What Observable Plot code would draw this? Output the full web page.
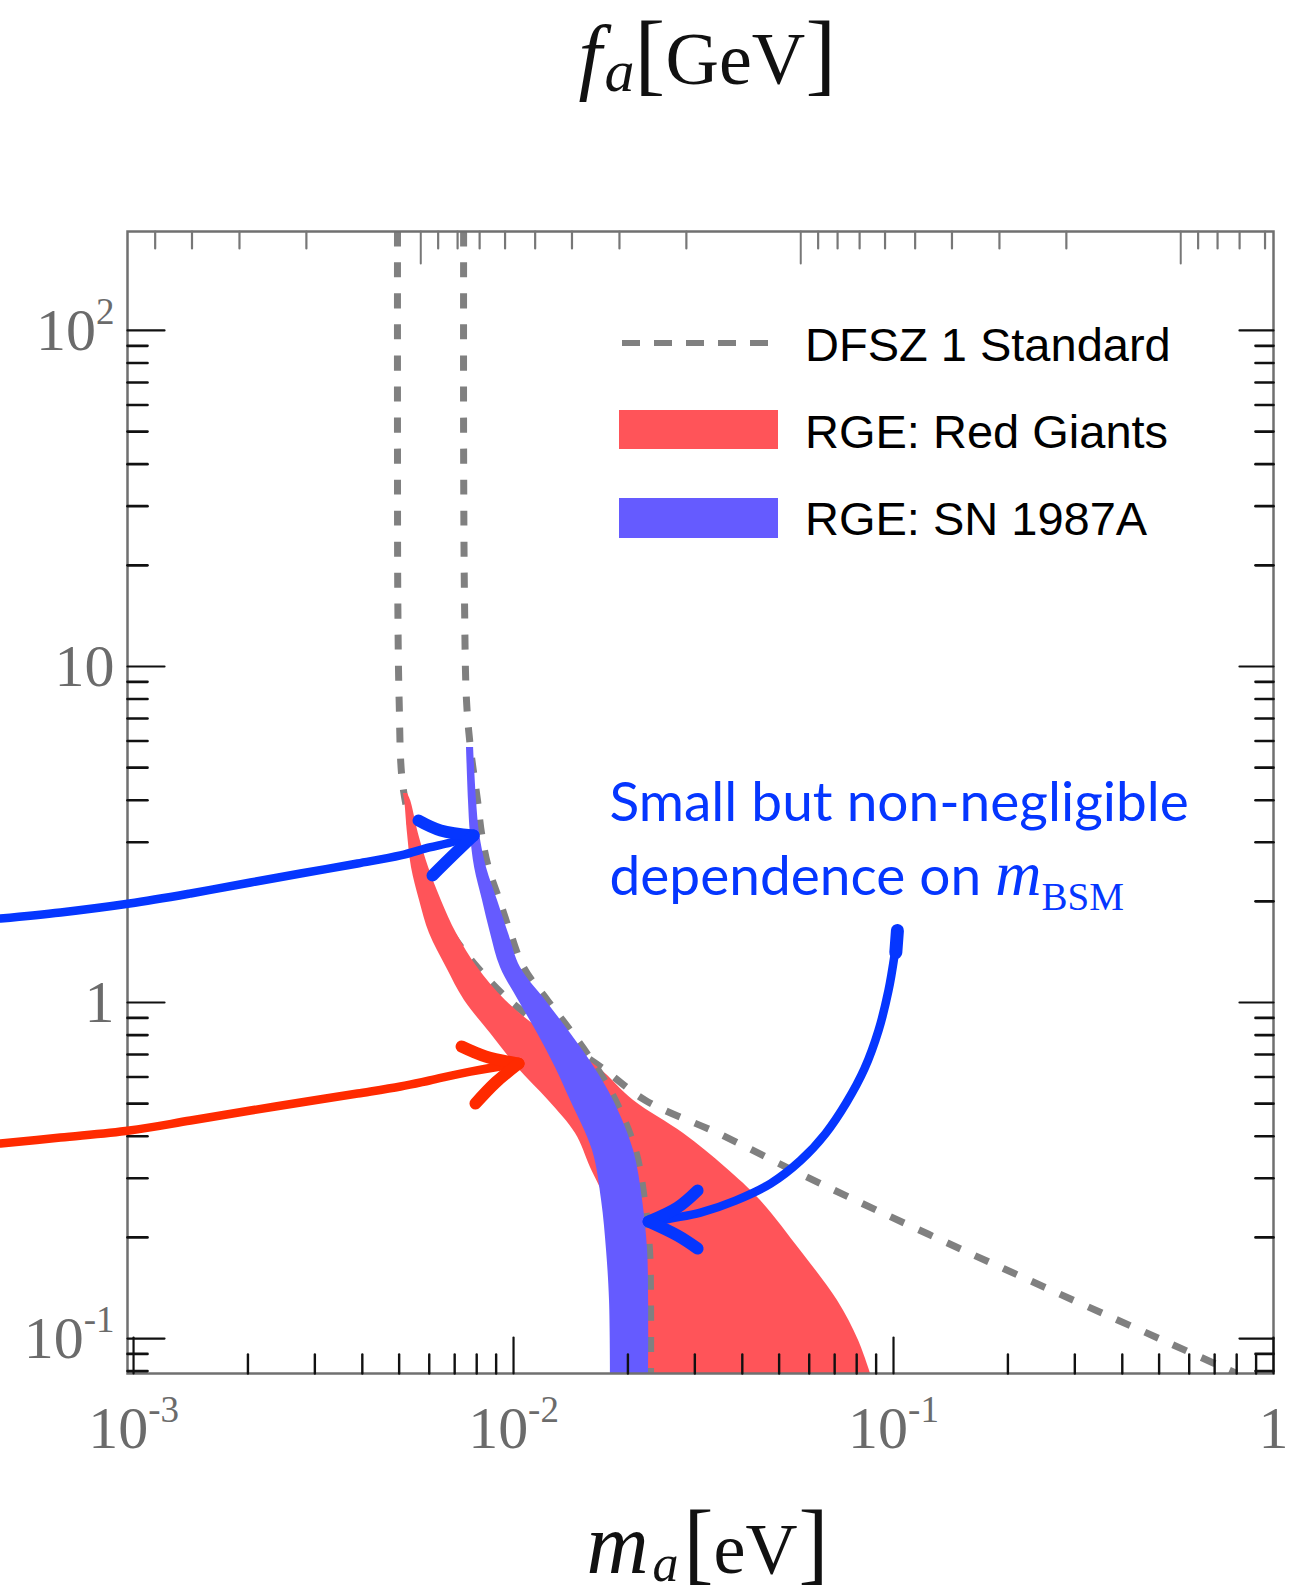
<!DOCTYPE html>
<html><head><meta charset="utf-8">
<script src="https://cdn.jsdelivr.net/npm/d3@7"></script>
<script src="https://cdn.jsdelivr.net/npm/@observablehq/plot@0.6"></script>
<style>
html,body{margin:0;padding:0;background:#fff;}
#chart svg{display:block;}
</style></head><body><div id="chart"></div>
<script>
// ---------- data ----------
// Red Giants band (RGE): for each Y, left and right m_a edge [eV]
const rgY     = [4.19, 3.99, 3.18, 2.52, 2.01, 1.605, 1.271, 1.014, 0.809, 0.640, 0.511, 0.4075, 0.3228, 0.2574, 0.1827, 0.1297, 0.0986, 0.0787];
const rgLeft  = [0.00513, 0.00517, 0.00526, 0.00539, 0.00566, 0.00601, 0.00666, 0.00743, 0.00870, 0.01025, 0.01236, 0.01456, 0.01594, 0.01738, 0.01778, 0.01833, 0.01867, 0.0189];
const rgRight = [0.00526, 0.00536, 0.00562, 0.00598, 0.00646, 0.00708, 0.00804, 0.00953, 0.01214, 0.01674, 0.0207, 0.02802, 0.03614, 0.04467, 0.0569, 0.0712, 0.0809, 0.0870];
// SN 1987A band (RGE)
const snY     = [5.74, 3.99, 3.18, 2.52, 2.01, 1.605, 1.271, 1.014, 0.809, 0.640, 0.511, 0.3626, 0.2574, 0.1827, 0.1297, 0.0787];
const snLeft  = [0.00752, 0.00761, 0.00770, 0.00790, 0.00829, 0.00870, 0.00924, 0.01031, 0.01157, 0.0129, 0.01413, 0.01614, 0.01705, 0.01757, 0.01789, 0.0180];
const snRight = [0.00785, 0.00799, 0.00814, 0.00849, 0.00908, 0.00970, 0.01043, 0.01214, 0.01413, 0.01634, 0.01833, 0.0207, 0.02186, 0.02253, 0.02267, 0.02267];
// DFSZ 1 standard bounds (dashed)
const rgDashY = [197, 43.9, 15.7, 7.92, 4.52, 3.18, 2.52, 2.01, 1.605, 1.271, 1.014, 0.809, 0.640, 0.511, 0.4075, 0.3228, 0.2574, 0.1827, 0.1297, 0.0986, 0.0787];
const rgDashM = [0.00495, 0.00495, 0.00496, 0.0050, 0.0051, 0.00542, 0.00573, 0.00616, 0.00687, 0.00804, 0.00976, 0.01259, 0.01705, 0.02226, 0.03463, 0.0525, 0.0797, 0.1533, 0.299, 0.514, 0.80];
const snDashY = [197, 43.9, 15.7, 7.92, 5.74, 3.99, 3.18, 2.52, 2.01, 1.605, 1.271, 1.014, 0.809, 0.640, 0.511, 0.3626, 0.2574, 0.1827, 0.1297, 0.0787];
const snDashM = [0.00739, 0.00739, 0.00743, 0.00752, 0.00770, 0.00804, 0.00824, 0.00859, 0.00919, 0.00982, 0.01063, 0.01229, 0.0143, 0.01654, 0.01855, 0.02095, 0.02212, 0.0228, 0.02294, 0.02294];

// hand-drawn annotation arrows (data coordinates)
const blueArrowM = [0.0004467, 0.0006425, 0.000976, 0.001413, 0.002032, 0.002751, 0.003886, 0.005042, 0.00601, 0.00683, 0.00785];
const blueArrowY = [1.778, 1.853, 1.970, 2.111, 2.276, 2.420, 2.593, 2.739, 2.893, 2.994, 3.162];
const blueHeadUpM = [0.005623, 0.00643, 0.00785], blueHeadUpY = [3.48, 3.25, 3.14];
const blueHeadLoM = [0.00785, 0.00683, 0.00612], blueHeadLoY = [3.14, 2.70, 2.388];
const redArrowM = [0.0004467, 0.0006425, 0.000976, 0.001413, 0.002032, 0.002751, 0.003886, 0.005042, 0.00601, 0.0077, 0.01031];
const redArrowY = [0.3805, 0.3964, 0.416, 0.4455, 0.477, 0.504, 0.536, 0.5623, 0.586, 0.623, 0.658];
const redHeadUpM = [0.0073, 0.00844, 0.01031], redHeadUpY = [0.7397, 0.691, 0.658];
const redHeadLoM = [0.01031, 0.00897, 0.00794], redHeadLoY = [0.658, 0.578, 0.5005];
const curveArrowM = [0.1022, 0.1006, 0.09701, 0.09131, 0.0839, 0.0752, 0.06623, 0.05692, 0.04747, 0.03839, 0.03105, 0.02589, 0.02294];
const curveArrowY = [1.582, 1.38, 1.086, 0.8254, 0.636, 0.504, 0.4075, 0.3387, 0.2892, 0.2574, 0.2371, 0.2276, 0.2214];
const curveHeadUpM = [0.0305, 0.02702, 0.02267], curveHeadUpY = [0.2757, 0.2454, 0.2229];
const curveHeadLoM = [0.02267, 0.02702, 0.0305], curveHeadLoY = [0.2229, 0.2025, 0.1853];
const curveBlobM = [0.1024, 0.1014], curveBlobY = [1.638, 1.409];

// annotation texts
const noteLines = ["Small but non-negligible", "dependence on §BSM"];
const noteM = [0.01789, 0.01789];
const noteY = [3.457, 2.096];

// legend
const legendLabels = ["DFSZ 1 Standard", "RGE: Red Giants", "RGE: SN 1987A"];

// axis titles, split into their typographic parts
const topTitleParts = ["f", "a", "[", "GeV", "]"];
const bottomTitleParts = ["m", "a", "[", "eV", "]"];

// ticks
const xMajorTicks = [0.001, 0.01, 0.1, 1];
const xMinorTicks = [0.002,0.003,0.004,0.005,0.006,0.007,0.008,0.009, 0.02,0.03,0.04,0.05,0.06,0.07,0.08,0.09, 0.2,0.3,0.4,0.5,0.6,0.7,0.8,0.9];
const yMajorTicks = [0.1, 1, 10, 100];
const yMinorTicks = [0.08,0.09, 0.2,0.3,0.4,0.5,0.6,0.7,0.8,0.9, 2,3,4,5,6,7,8,9, 20,30,40,50,60,70,80,90];
const faMajorTicks = [1e9, 1e8, 1e7];
const faMinorTicks = [5e9,4e9,3e9,2e9, 9e8,8e8,7e8,6e8,5e8,4e8,3e8,2e8, 9e7,8e7,7e7,6e7,5e7,4e7,3e7,2e7, 9e6,8e6,7e6,6e6];
const faToMa = 5.7e6; // m_a[eV] = 5.7e6 / f_a[GeV]

// ---------- build tables ----------
const rg = rgY.map((y, i) => ({Y: y, l: rgLeft[i], r: rgRight[i]}));
const sn = snY.map((y, i) => ({Y: y, l: snLeft[i], r: snRight[i]}));
const pts = (M, Y) => M.map((m, i) => ({m, Y: Y[i]}));

const RED = "#ff5459", BLUE = "#655bff", DASH = "#808080";
const ANN_BLUE = "#0536ff", ANN_RED = "#ff2a00";
const tickShape = {draw(ctx, l) { ctx.moveTo(0, 0); ctx.lineTo(0, -l); }};
const pow10 = d => d === 1 ? "1" : d === 10 ? "10" : "10^" + Math.round(Math.log10(d));

const serif = "Liberation Serif, Times New Roman, serif";
const labelColor = "#6b6b6b";
const arrowLine = (M, Y, color, w, curve = "catmull-rom") =>
  Plot.line(pts(M, Y), {x: "m", y: "Y", stroke: color, strokeWidth: w, curve, strokeLinecap: "round", strokeLinejoin: "round"});

// title part layout: [left x offset from frame edge, baseline offset from frame edge, font size, italic]
const topLayout    = [[451, -148, 84, true], [477, -141, 60, true], [507, -148, 92, false], [538, -148, 74, false], [678, -148, 92, false]];
const bottomLayout = [[459, 199, 86, true], [525, 207, 52, true], [556, 199, 90, false], [586, 199, 72, false], [671, 199, 90, false]];
const titleMarks = (parts, layout, anchor) => parts.map((p, i) =>
  Plot.text([p], {text: d => d, frameAnchor: anchor, dx: layout[i][0], dy: layout[i][1], textAnchor: "start", lineAnchor: "bottom",
    fontSize: layout[i][2], fontStyle: layout[i][3] ? "italic" : "normal", fontFamily: serif, fill: "#111"}));

const chart = Plot.plot({
  width: 1298, height: 1592,
  marginLeft: 127, marginRight: 25, marginTop: 231, marginBottom: 219,
  x: {type: "log", domain: [0.000964, 1], axis: null},
  y: {type: "log", domain: [0.0787, 197], axis: null},
  marks: [
    Plot.line(pts(rgDashM, rgDashY), {x: "m", y: "Y", stroke: DASH, strokeWidth: 7, strokeDasharray: "15,16", strokeLinecap: "butt", curve: "catmull-rom", clip: true}),
    Plot.areaX(rg, {y: "Y", x1: "l", x2: "r", fill: RED, curve: "catmull-rom", clip: true}),
    Plot.line(pts(snDashM, snDashY), {x: "m", y: "Y", stroke: DASH, strokeWidth: 7, strokeDasharray: "15,16", strokeLinecap: "butt", curve: "catmull-rom", clip: true}),
    Plot.areaX(sn, {y: "Y", x1: "l", x2: "r", fill: BLUE, curve: "catmull-rom", clip: true}),
    Plot.frame({stroke: "#707070", strokeWidth: 2.5}),
    // ticks (inward)
    Plot.vector(xMajorTicks, {x: d => d, frameAnchor: "bottom", length: 36, rotate: 0, anchor: "start", shape: tickShape, stroke: "#111", strokeWidth: 2.2}),
    Plot.vector(xMinorTicks, {x: d => d, frameAnchor: "bottom", length: 19, rotate: 0, anchor: "start", shape: tickShape, stroke: "#111", strokeWidth: 2.4}),
    Plot.vector(faMajorTicks, {x: d => faToMa / d, frameAnchor: "top", length: 32, rotate: 180, anchor: "start", shape: tickShape, stroke: "#777", strokeWidth: 2}),
    Plot.vector(faMinorTicks, {x: d => faToMa / d, frameAnchor: "top", length: 17, rotate: 180, anchor: "start", shape: tickShape, stroke: "#777", strokeWidth: 2.2}),
    Plot.vector(yMajorTicks, {y: d => d, frameAnchor: "left", length: 37, rotate: 90, anchor: "start", shape: tickShape, stroke: "#111", strokeWidth: 2.2}),
    Plot.vector(yMinorTicks, {y: d => d, frameAnchor: "left", length: 20, rotate: 90, anchor: "start", shape: tickShape, stroke: "#111", strokeWidth: 2.6}),
    Plot.vector(yMajorTicks, {y: d => d, frameAnchor: "right", length: 34, rotate: -90, anchor: "start", shape: tickShape, stroke: "#111", strokeWidth: 2.2}),
    Plot.vector(yMinorTicks, {y: d => d, frameAnchor: "right", length: 18, rotate: -90, anchor: "start", shape: tickShape, stroke: "#111", strokeWidth: 2.6}),
    // tick labels
    Plot.axisX({ticks: xMajorTicks, anchor: "bottom", tickSize: 0, tickPadding: 32, tickFormat: pow10, fontSize: 60, fontFamily: serif, color: labelColor, label: null}),
    Plot.axisX({ticks: faMajorTicks.map(f => faToMa / f), anchor: "top", tickSize: 0, tickPadding: 33, tickFormat: m => "10^" + Math.round(Math.log10(faToMa / m)), fontSize: 60, fontFamily: serif, color: labelColor, label: null}),
    Plot.axisY({ticks: yMajorTicks, anchor: "left", tickSize: 0, tickPadding: 13, tickFormat: pow10, fontSize: 60, fontFamily: serif, color: labelColor, label: null}),
    // axis titles
    ...titleMarks(topTitleParts, topLayout, "top-left"),
    ...titleMarks(bottomTitleParts, bottomLayout, "bottom-left"),
    // annotation arrows
    arrowLine(blueArrowM, blueArrowY, ANN_BLUE, 8.5),
    arrowLine(blueHeadUpM, blueHeadUpY, ANN_BLUE, 12),
    arrowLine(blueHeadLoM, blueHeadLoY, ANN_BLUE, 12),
    arrowLine(redArrowM, redArrowY, ANN_RED, 8.5),
    arrowLine(redHeadUpM, redHeadUpY, ANN_RED, 12),
    arrowLine(redHeadLoM, redHeadLoY, ANN_RED, 12),
    arrowLine(curveArrowM, curveArrowY, ANN_BLUE, 8.5),
    arrowLine(curveBlobM, curveBlobY, ANN_BLUE, 13, "linear"),
    arrowLine(curveHeadUpM, curveHeadUpY, ANN_BLUE, 12),
    arrowLine(curveHeadLoM, curveHeadLoY, ANN_BLUE, 12),
    // annotation text
    Plot.text(noteLines.map((t, i) => ({t, m: noteM[i], Y: noteY[i]})), {x: "m", y: "Y", text: "t", textAnchor: "start", lineAnchor: "bottom", fontSize: 55, fontFamily: "Lato, sans-serif", fill: ANN_BLUE})
  ]
});

const NS = "http://www.w3.org/2000/svg";
function tspan(parent, text, attrs = {}) {
  const s = document.createElementNS(NS, "tspan");
  s.textContent = text;
  for (const [k, v] of Object.entries(attrs)) s.setAttribute(k, v);
  parent.appendChild(s);
  return s;
}
chart.querySelectorAll("text").forEach(t => {
  const s = t.textContent;
  const mm = /^10\^(-?\d+)$/.exec(s);
  if (mm) {
    t.textContent = "";
    tspan(t, "10");
    tspan(t, mm[1], {"font-size": 37, dy: -26});
  } else if (s.includes("§BSM")) {
    t.textContent = "";
    tspan(t, s.split("§")[0]);
    tspan(t, "m", {"font-family": serif, "font-style": "italic", "font-size": 64});
    tspan(t, "BSM", {"font-family": serif, "font-size": 39, dy: 15});
  }
});

// legend (inside the frame, upper right)
const lg = d3.select(chart).append("g")
  .attr("font-family", "Liberation Sans, Arial, sans-serif").attr("font-size", 47).attr("text-anchor", "start");
lg.append("line").attr("x1", 622).attr("x2", 770).attr("y1", 343).attr("y2", 343)
  .attr("stroke", DASH).attr("stroke-width", 6).attr("stroke-dasharray", "18,14");
lg.append("rect").attr("x", 619).attr("y", 410).attr("width", 159).attr("height", 39).attr("fill", RED);
lg.append("rect").attr("x", 619).attr("y", 498).attr("width", 159).attr("height", 40).attr("fill", BLUE);
[344, 431, 518].forEach((y, i) => {
  lg.append("text").attr("x", 805).attr("y", y).attr("dy", "0.36em").attr("text-anchor", "start").attr("fill", "#000").text(legendLabels[i]);
});

document.getElementById("chart").appendChild(chart);
</script></body></html>
